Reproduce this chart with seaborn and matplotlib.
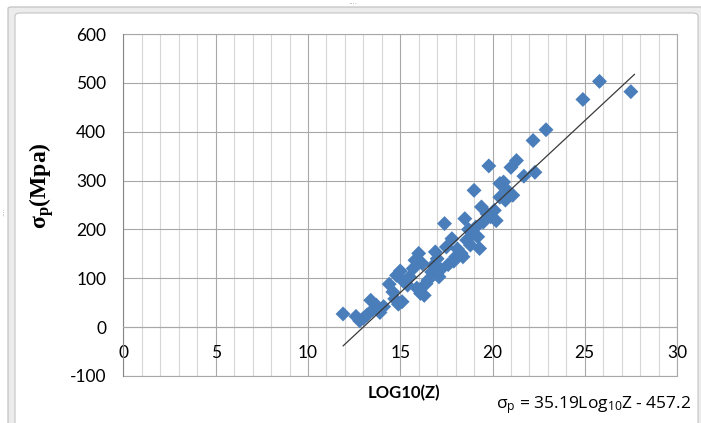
import matplotlib
matplotlib.use("Agg")
import matplotlib.pyplot as plt
from matplotlib.patches import FancyBboxPatch
from matplotlib.ticker import MultipleLocator
import pandas as pd
import seaborn as sns

# Measured points: log10(Z) against sigma_p (MPa)
log10_z = [11.9, 12.6, 12.8, 13.0, 13.2, 13.4, 13.5, 13.7, 13.9, 14.1,
           14.4, 14.6, 14.7, 14.8, 14.9, 15.0, 15.1, 15.2, 15.4, 15.5,
           15.7, 15.8, 15.9, 16.0, 16.1, 16.2, 16.3, 16.4, 16.5, 16.7,
           16.8, 16.9, 17.0, 17.1, 17.2, 17.4, 17.5, 17.6, 17.8, 17.9,
           18.0, 18.1, 18.3, 18.4, 18.5, 18.6, 18.7, 18.8, 18.9, 19.0,
           19.1, 19.2, 19.3, 19.4, 19.5, 19.7, 19.8, 19.9, 20.1, 20.2,
           20.4, 20.4, 20.6, 20.7, 20.8, 21.0, 21.1, 21.3, 21.7, 22.2,
           22.3, 22.9, 24.9, 25.8, 27.5]
sigma_p = [27, 22, 13, 18, 25, 55, 35, 45, 30, 42,
           88, 72, 58, 106, 47, 115, 52, 93, 86, 103,
           120, 137, 80, 151, 69, 130, 65, 89, 96, 113,
           127, 154, 140, 103, 118, 212, 164, 128, 181, 135,
           144, 160, 151, 144, 222, 178, 200, 168, 192, 280,
           205, 185, 161, 246, 215, 232, 330, 226, 239, 218,
           266, 294, 297, 260, 280, 327, 270, 341, 309, 382,
           317, 404, 466, 503, 482]

# Fitted trend: sigma_p = 35.19 * log10(Z) - 457.2
slope = 35.19
intercept = -457.2

x_ticks = [0, 5, 10, 15, 20, 25, 30]
y_ticks = [-100, 0, 100, 200, 300, 400, 500, 600]

sns.set_theme(style="white")
plt.rcParams["font.family"] = ["Lato", "DejaVu Sans"]
plt.rcParams["axes.unicode_minus"] = False
plt.rcParams["mathtext.fontset"] = "custom"
plt.rcParams["mathtext.rm"] = "Open Sans"
plt.rcParams["mathtext.it"] = "Open Sans"
plt.rcParams["mathtext.bf"] = "Liberation Serif:bold"

W, H = 701, 423
fig = plt.figure(figsize=(W / 100, H / 100), dpi=100)
fig.patch.set_facecolor("white")

# window frame around the chart area
outer = FancyBboxPatch((8 / W, -0.05), 1.2, 1.0 - 7 / H + 0.05,
                       boxstyle="round,pad=0,rounding_size=0.004",
                       transform=fig.transFigure, facecolor="#ececec",
                       edgecolor="#bcbcbc", linewidth=0.8, zorder=-2)
inner = FancyBboxPatch((15 / W, -0.05), (698 - 15) / W, 1.0 - 13 / H + 0.05,
                       boxstyle="round,pad=0,rounding_size=0.008",
                       transform=fig.transFigure, facecolor="white",
                       edgecolor="#c4c4c4", linewidth=0.8, zorder=-1)
fig.patches.extend([outer, inner])
fig.text(353 / W, 1 - 4 / H, "····", fontsize=5, color="#a0a0a0",
         ha="center", va="center", family="DejaVu Sans")
fig.text(4 / W, 1 - 212 / H, "····", fontsize=5, color="#a0a0a0",
         ha="center", va="center", rotation=90, family="DejaVu Sans")

left, right, top, bottom = 123.5, 677, 34, 376
ax = fig.add_axes([left / W, 1 - bottom / H, (right - left) / W, (bottom - top) / H])
ax.set_zorder(2)
ax.set_facecolor("white")

points = pd.DataFrame({"log10_z": log10_z, "sigma_p": sigma_p})
trend = pd.DataFrame({"log10_z": [min(log10_z), max(log10_z) + 0.2]})
trend["sigma_p"] = slope * trend["log10_z"] + intercept

sns.scatterplot(data=points, x="log10_z", y="sigma_p", marker="D", s=58,
                color="#4a7ebb", edgecolor="none", linewidth=0, ax=ax, zorder=3)
sns.lineplot(data=trend, x="log10_z", y="sigma_p", color="#3a3a3a",
             linewidth=0.9, ax=ax, zorder=4)

ax.set_xlim(0, 30)
ax.set_ylim(-100, 600)
ax.set_xticks(x_ticks)
ax.set_yticks(y_ticks)
ax.xaxis.set_minor_locator(MultipleLocator(1))
ax.set_axisbelow(True)

major_grid = "#a8a8a8"
minor_grid = "#d6d6d6"
ax.grid(which="major", axis="both", color=major_grid, linewidth=0.8)
ax.grid(which="minor", axis="x", color=minor_grid, linewidth=0.8)
ax.axhline(-100, color=major_grid, linewidth=0.8, clip_on=False, zorder=1)
ax.axhline(600, color=major_grid, linewidth=0.8, clip_on=False, zorder=1)
ax.axvline(30, color=major_grid, linewidth=0.8, clip_on=False, zorder=1)

for side in ("top", "right"):
    ax.spines[side].set_visible(False)
ax.spines["left"].set_color("#868686")
ax.spines["left"].set_linewidth(0.8)
ax.spines["bottom"].set_position(("data", 0))
ax.spines["bottom"].set_color(major_grid)
ax.spines["bottom"].set_linewidth(0.8)

ax.tick_params(axis="y", which="major", length=4.5, width=0.8, color="#868686",
               direction="out", pad=8, labelsize=12.5, labelcolor="black")
ax.tick_params(axis="x", which="both", length=0, pad=13, labelsize=12.5,
               labelcolor="black")

ax.set_xlabel("")
ax.set_ylabel("")

fig.text(42 / W, 1 - 186 / H, r"$\mathbf{\sigma_p(Mpa)}$", rotation=90,
         fontsize=17, ha="center", va="center", color="black")
fig.text(404 / W, 1 - 393 / H, "LOG10(Z)", fontsize=12, fontweight="bold",
         ha="center", va="center", color="black")
fig.text(594 / W, 1 - 405 / H,
         r"$\mathrm{\sigma_p}$ = 35.19Log$_{\mathrm{10}}$Z - 457.2",
         fontsize=12.5, family="Open Sans", ha="center", va="center",
         color="black")

fig.savefig("out.png", dpi=100)
